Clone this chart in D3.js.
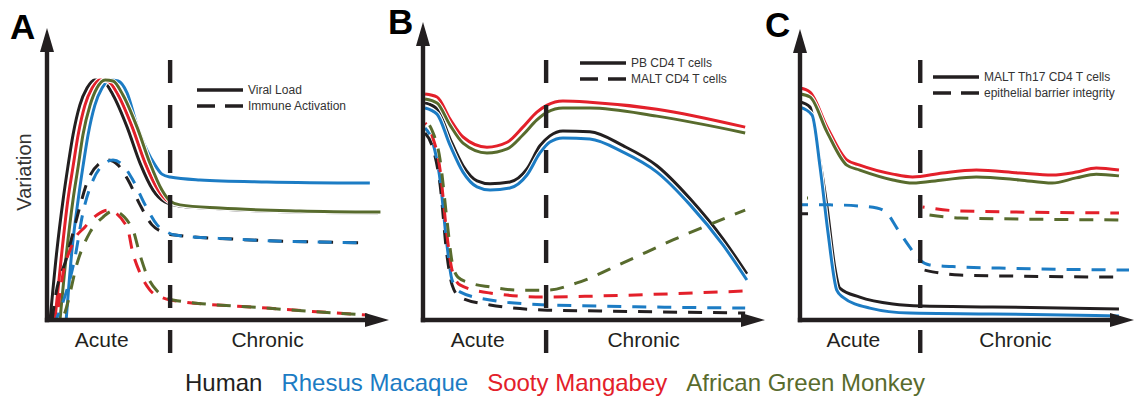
<!DOCTYPE html>
<html>
<head>
<meta charset="utf-8">
<script src="https://cdn.jsdelivr.net/npm/d3@7"></script>
<style>
  html, body { margin: 0; padding: 0; background: #fff; }
  svg { display: block; font-family: "Liberation Sans", Arial, sans-serif; }
</style>
</head>
<body>
<svg id="chart" width="1135" height="399"></svg>
<script>
// ---- Species and phases ----
const speciesNames = ["Human", "Rhesus Macaque", "Sooty Mangabey", "African Green Monkey"];
const speciesColors = ["#231f20", "#1c7cc4", "#e3202a", "#586b2d"];
const phaseNames = ["Acute", "Chronic"];
const phaseLabelT = [16, 64.5];
const phaseBoundary = 36;

// ---- Panel A: viral load (solid) and immune activation (dashed), [time, variation] ----
const viralLoadHuman = [[0.9,0],[2.9,24.1],[4.7,41.4],[6.1,52.8],[7.6,63.8],[9.6,74.1],[11.7,80],[14.0,82.8],[16.4,82.4],[19.3,77.6],[23.4,66.6],[27.2,54.1],[31.0,44.8],[34.5,40.7],[38.9,39.3],[50.6,38.3],[74.0,37.2],[96.8,36.9]];
const viralLoadRhesus = [[5.6,0],[7.3,24.1],[9.1,41.4],[10.5,52.8],[12.0,63.8],[14.0,74.1],[16.1,80],[18.4,82.8],[20.8,82.4],[23.4,78.3],[26.3,67.2],[29.2,58.6],[31.6,53.4],[33.6,50.3],[36.0,49.3],[44.7,48.3],[64.3,47.6],[94.4,47.2]];
const viralLoadSooty = [[2.3,0],[4.4,24.1],[6.1,41.4],[7.6,52.8],[9.1,63.8],[11.1,74.1],[13.2,80],[15.5,82.8],[17.8,82.4],[20.8,77.6],[24.9,66.6],[28.7,54.1],[32.5,44.8],[35.4,41.0],[38.9,39.7],[50.6,38.6],[74.0,37.6],[96.8,37.2]];
const viralLoadAGM = [[3.8,0],[5.8,24.1],[7.6,41.4],[9.1,52.8],[10.5,63.8],[12.6,74.1],[14.6,80],[17.0,82.8],[19.3,82.4],[22.2,77.6],[26.3,66.6],[30.1,54.1],[33.6,44.8],[36.0,41.0],[38.9,39.7],[50.6,38.6],[74.0,37.6],[97.5,37.2]];

const activationHuman = [[1.5,0],[2.3,6.9],[5.8,21.7],[8.8,35.5],[12.0,48.3],[15.5,54.1],[17.8,55.2],[20.8,53.4],[23.7,48.3],[27.2,39.7],[30.7,32.8],[33.9,30.3],[37.4,29.3],[54.4,27.9],[93.6,26.6]];
const activationRhesus = [[2.6,0],[3.8,3.4],[8.2,21.7],[10.5,36.9],[13.5,48.3],[17.0,54.1],[19.3,55.2],[22.2,53.4],[25.1,48.3],[28.7,39.7],[32.2,32.8],[35.1,30.3],[37.4,29.3],[54.4,27.9],[93.6,26.6]];
const activationSooty = [[2.9,0],[3.8,9.3],[7.6,26.6],[11.1,32.1],[14.6,36.2],[17.8,37.9],[23.4,32.1],[25.1,23.1],[27.2,16.2],[30.1,10.3],[33.9,7.6],[36.0,6.9],[64.3,4.1],[93.6,1.7]];
const activationAGM = [[4.4,0],[5.3,2.8],[9.1,20.7],[12.6,30.3],[16.4,35.5],[19.3,37.6],[24.9,31.7],[27.2,22.4],[29.2,15.5],[32.2,10.0],[35.4,7.6],[36.8,6.9],[64.3,4.1],[93.6,1.7]];

// ---- Panel B: peripheral blood (solid) and mucosal (dashed) CD4 T cells ----
const pbCD4Human = [[0.6,74.9],[4.1,72.8],[7.9,62.5],[11.7,53.2],[15.8,48.0],[19.6,47.0],[25.4,47.6],[30.4,52.1],[34.2,60.1],[37.1,63.5],[40.9,65.2],[48.8,64.9],[58.5,60.1],[68.4,53.2],[78.1,41.8],[87.7,28.0],[94.7,15.9]];
const pbCD4Rhesus = [[0.6,73.1],[4.1,71.0],[7.9,60.3],[11.7,51.0],[15.8,45.9],[19.6,44.8],[25.4,45.5],[30.4,50.0],[34.2,57.6],[37.1,61.4],[40.9,62.8],[48.8,62.4],[58.5,57.9],[68.4,51.0],[78.1,39.7],[87.7,25.9],[94.7,13.8]];
const pbCD4Sooty = [[0.6,77.9],[4.1,76.9],[7.9,69.3],[11.7,63.1],[18.7,59.6],[24.6,61.3],[29.2,66.5],[33.3,71.7],[36.3,74.1],[40.9,75.5],[48.8,75.1],[68.4,72.7],[94.2,66.5]];
const pbCD4AGM = [[0.6,76.2],[4.1,74.8],[7.9,67.2],[11.7,61.0],[18.7,57.6],[24.6,59.0],[29.2,63.8],[33.3,69.0],[36.3,71.7],[40.9,73.1],[48.8,73.1],[68.4,70.3],[94.2,64.5]];

const maltCD4Human = [[0.6,64.5],[2.6,60.3],[5.0,46.6],[7.0,22.4],[8.5,12.1],[10.8,7.9],[19.6,5.2],[36.3,3.4],[51.8,3.1],[94.2,2.4]];
const maltCD4Rhesus = [[0.6,66.2],[2.6,62.1],[5.0,48.3],[7.0,25.9],[8.5,13.8],[10.8,9.7],[19.6,6.9],[36.3,5.2],[51.8,4.8],[94.2,4.1]];
const maltCD4Sooty = [[0.6,67.9],[2.6,63.8],[5.0,51.7],[7.0,29.3],[8.5,17.2],[10.8,12.1],[19.6,9.3],[36.3,7.9],[51.8,8.3],[94.2,10.0]];
const maltCD4AGM = [[0.6,69.0],[2.6,65.5],[5.0,55.2],[7.0,34.5],[8.5,20.0],[10.2,14.8],[13.7,12.8],[19.6,11.4],[28.4,10.3],[36.3,10.3],[45.0,12.8],[58.5,19.7],[73.1,27.6],[94.2,37.9]];

// ---- Panel C: mucosal Th17 cells (solid) and epithelial barrier (dashed) ----
const th17Human = [[0,75.2],[3.0,73.4],[5.4,58.6],[8.1,39.0],[10.4,18.3],[11.9,11.0],[17.9,7.9],[27.8,5.5],[36.4,4.8],[57.6,4.5],[95.5,3.8]];
const th17Rhesus = [[0,73.4],[3.6,70.7],[6.0,52.8],[8.4,30.0],[11.0,10.3],[12.8,7.9],[20.9,4.1],[32.8,2.4],[57.6,2.1],[95.5,1.4]];
const th17Sooty = [[0,80.0],[3.0,78.6],[8.1,66.6],[14.0,55.2],[17.9,53.4],[27.8,50.3],[33.7,49.3],[42.7,50.7],[52.8,51.7],[65.7,50.7],[75.5,50.0],[82.7,51.0],[88.7,52.4],[95.5,51.7]];
const th17AGM = [[0,77.9],[3.0,76.9],[8.1,64.8],[14.0,53.4],[17.9,51.7],[27.8,48.3],[33.7,47.2],[42.7,48.3],[52.8,49.3],[65.7,48.3],[75.5,47.2],[82.7,49.0],[88.7,50.3],[95.5,49.7]];

const barrierHuman = [[0,36.6],[2.4,36.6],null,[37.3,17.2],[41.8,16.2],[47.8,15.5],[95.5,14.8]];
const barrierRhesus = [[0,39.7],[9.0,39.7],[17.9,39.3],[23.0,38.6],[26.0,36.9],[29.0,31.7],[32.8,25.2],[35.8,20.7],[38.8,19.0],[47.8,18.3],[59.7,17.9],[98.5,17.2]];
const barrierSooty = [[0,44.8],[2.4,44.8],null,[36.7,39.0],[47.8,37.6],[95.5,36.9]];
const barrierAGM = [[0,42.1],[2.4,42.1],null,[36.7,36.6],[47.8,35.2],[95.5,34.5]];

// ---- Layout of the three panels ----
const INK = "#231f20";
const panels = [
  { letter: "A", letterX: 10, letterY: 39, x0: 47, x1: 389, yTip: 28,
    legend: ["Viral Load", "Immune Activation"], legendX: 197, legendY: 90,
    solid: [viralLoadHuman, viralLoadRhesus, viralLoadSooty, viralLoadAGM],
    dashed: [activationHuman, activationRhesus, activationSooty, activationAGM] },
  { letter: "B", letterX: 388, letterY: 34, x0: 423, x1: 765, yTip: 22,
    legend: ["PB CD4 T cells", "MALT CD4 T cells"], legendX: 580, legendY: 63,
    solid: [pbCD4Human, pbCD4Rhesus, pbCD4Sooty, pbCD4AGM],
    dashed: [maltCD4Human, maltCD4Rhesus, maltCD4Sooty, maltCD4AGM] },
  { letter: "C", letterX: 765, letterY: 37, x0: 800, x1: 1134, yTip: 29,
    legend: ["MALT Th17 CD4 T cells", "epithelial barrier integrity"], legendX: 933, legendY: 77,
    solid: [th17Human, th17Rhesus, th17Sooty, th17AGM],
    dashed: [barrierHuman, barrierRhesus, barrierSooty, barrierAGM] }
];

const svg = d3.select("#chart");
const y = d3.scaleLinear().domain([0, 100]).range([320, 30]);

panels.forEach(p => {
  const x = d3.scaleLinear().domain([0, 100]).range([p.x0, p.x1]);
  const g = svg.append("g");
  const line = d3.line()
    .defined(d => d !== null)
    .x(d => x(d[0]))
    .y(d => y(d[1]))
    .curve(d3.curveMonotoneX);

  // solid series with a thin white casing
  p.solid.forEach((data, i) => {
    g.append("path").attr("d", line(data)).attr("fill", "none")
      .attr("stroke", "#fff").attr("stroke-width", 5);
    g.append("path").attr("d", line(data)).attr("fill", "none")
      .attr("stroke", speciesColors[i]).attr("stroke-width", 3);
  });

  // dashed series
  p.dashed.forEach((data, i) => {
    g.append("path").attr("d", line(data)).attr("fill", "none")
      .attr("stroke", speciesColors[i]).attr("stroke-width", 3)
      .attr("stroke-dasharray", "14,11")
      .attr("stroke-dashoffset", i * 6);
  });

  // axes with arrowheads
  const ax = x(0), ay = y(0);
  g.append("line").attr("x1", ax).attr("x2", ax).attr("y1", ay + 2.2).attr("y2", p.yTip + 20)
    .attr("stroke", INK).attr("stroke-width", 4.4);
  g.append("path")
    .attr("d", `M${ax},${p.yTip} L${ax + 7},${p.yTip + 24} L${ax - 7},${p.yTip + 24} Z`)
    .attr("fill", INK);
  g.append("line").attr("x1", ax - 2.2).attr("x2", p.x1 - 20).attr("y1", ay).attr("y2", ay)
    .attr("stroke", INK).attr("stroke-width", 4.4);
  g.append("path")
    .attr("d", `M${p.x1},${ay} L${p.x1 - 24},${ay - 7} L${p.x1 - 24},${ay + 7} Z`)
    .attr("fill", INK);

  // acute / chronic divider
  const bx = x(phaseBoundary);
  g.append("line").attr("x1", bx).attr("x2", bx).attr("y1", 60).attr("y2", 353)
    .attr("stroke", INK).attr("stroke-width", 4.4).attr("stroke-dasharray", "23,22");

  // phase labels
  phaseNames.forEach((name, k) => {
    g.append("text").attr("x", x(phaseLabelT[k])).attr("y", 347)
      .attr("text-anchor", "middle").attr("font-size", 21).attr("fill", INK)
      .text(name);
  });

  // panel letter
  g.append("text").attr("x", p.letterX).attr("y", p.letterY)
    .attr("font-size", 35).attr("font-weight", "bold").attr("fill", "#000")
    .text(p.letter);

  // line-style key
  [0, 1].forEach(k => {
    const ly = p.legendY + k * 16;
    g.append("line").attr("x1", p.legendX).attr("x2", p.legendX + 46)
      .attr("y1", ly).attr("y2", ly)
      .attr("stroke", INK).attr("stroke-width", 3.4)
      .attr("stroke-dasharray", k === 0 ? null : "18,10");
    g.append("text").attr("x", p.legendX + 51).attr("y", ly + 4.3)
      .attr("font-size", 12).attr("fill", "#333").text(p.legend[k]);
  });
});

// y-axis title
svg.append("text").attr("transform", "translate(31,172) rotate(-90)")
  .attr("text-anchor", "middle").attr("font-size", 20).attr("fill", "#333")
  .text("Variation");

// species key
let kx = 185;
speciesNames.forEach((name, i) => {
  const t = svg.append("text").attr("x", kx).attr("y", 391)
    .attr("font-size", 24).attr("fill", speciesColors[i]).text(name);
  kx += t.node().getComputedTextLength() + 19;
});
</script>
</body>
</html>
